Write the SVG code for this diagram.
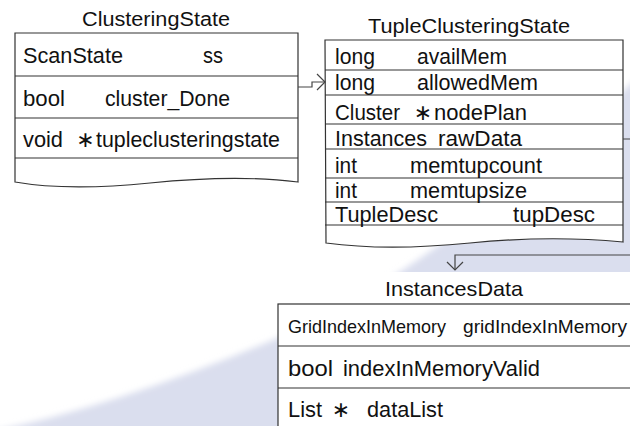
<svg xmlns="http://www.w3.org/2000/svg" width="630" height="426" viewBox="0 0 630 426">
<defs>
<style>
text{font-family:"Liberation Sans",Arial,sans-serif;fill:#111;font-size:22px}
.star{font-family:"DejaVu Sans",sans-serif;font-size:22px}
.box{fill:#fff;stroke:#333;stroke-width:1.2}
.row{stroke:#333;stroke-width:1.2;fill:none}
.conn{fill:none;stroke:#444;stroke-width:1.2}
</style>
<filter id="soft" x="-10%" y="-10%" width="120%" height="120%"><feGaussianBlur stdDeviation="3"/></filter>
<marker id="arr" viewBox="0 0 10 18" refX="9" refY="9" markerWidth="10" markerHeight="18" markerUnits="userSpaceOnUse" orient="auto">
<path d="M1,1 L9,9 L1,17" fill="none" stroke="#444" stroke-width="1.2"/>
</marker>
</defs>
<rect width="630" height="426" fill="#fff"/>
<path d="M-10,432 Q120,405 280,337 T645,70 L645,440 Z" fill="#dadeee" filter="url(#soft)"/>
<rect x="278" y="272" width="360" height="160" fill="#fff"/>

<g id="ClusteringState">
<text x="82" y="26" textLength="148" lengthAdjust="spacingAndGlyphs" style="font-size:20px">ClusteringState</text>
<path class="box" d="M15,33 H298 V182 C250,176 200,178 150,183 C100,188 55,189 15,182 Z"/>
<path class="row" d="M15,76 H298 M15,118 H298 M15,158 H298"/>
<text x="23" y="63" textLength="100" lengthAdjust="spacingAndGlyphs">ScanState</text>
<text x="203" y="63" textLength="20" lengthAdjust="spacingAndGlyphs">ss</text>
<text x="23" y="106" textLength="42" lengthAdjust="spacingAndGlyphs">bool</text>
<text x="105" y="106" textLength="125" lengthAdjust="spacingAndGlyphs">cluster_Done</text>
<text x="23" y="147" textLength="40" lengthAdjust="spacingAndGlyphs">void</text>
<text class="star" x="85.5" y="147" text-anchor="middle">∗</text>
<text x="96" y="147" textLength="184" lengthAdjust="spacingAndGlyphs">tupleclusteringstate</text>
</g>

<g id="TupleClusteringState">
<text x="368" y="33" textLength="202" lengthAdjust="spacingAndGlyphs" style="font-size:21px">TupleClusteringState</text>
<path class="box" d="M325,40 H623 V242 C570,237 520,238 470,243 C420,248 370,249 326,243 Z"/>
<path class="row" d="M325,70 H623 M325,95 H623 M325,124 H623 M325,149 H623 M325,178 H623 M325,202 H623 M325,225 H623"/>
<text x="335" y="64" textLength="40" lengthAdjust="spacingAndGlyphs">long</text>
<text x="417" y="64" textLength="90" lengthAdjust="spacingAndGlyphs">availMem</text>
<text x="335" y="90" textLength="40" lengthAdjust="spacingAndGlyphs">long</text>
<text x="417" y="90" textLength="121" lengthAdjust="spacingAndGlyphs">allowedMem</text>
<text x="335" y="120" textLength="65" lengthAdjust="spacingAndGlyphs">Cluster</text>
<text class="star" x="423" y="120" text-anchor="middle">∗</text>
<text x="434" y="120" textLength="93" lengthAdjust="spacingAndGlyphs">nodePlan</text>
<text x="335" y="146" textLength="92" lengthAdjust="spacingAndGlyphs">Instances</text>
<text x="438" y="146" textLength="84" lengthAdjust="spacingAndGlyphs">rawData</text>
<text x="335" y="173" textLength="22" lengthAdjust="spacingAndGlyphs">int</text>
<text x="410" y="173" textLength="132" lengthAdjust="spacingAndGlyphs">memtupcount</text>
<text x="335" y="198" textLength="22" lengthAdjust="spacingAndGlyphs">int</text>
<text x="410" y="198" textLength="117" lengthAdjust="spacingAndGlyphs">memtupsize</text>
<text x="335" y="222" textLength="103" lengthAdjust="spacingAndGlyphs">TupleDesc</text>
<text x="513" y="222" textLength="82" lengthAdjust="spacingAndGlyphs">tupDesc</text>
</g>

<g id="InstancesData">
<text x="385" y="296" textLength="138" lengthAdjust="spacingAndGlyphs" style="font-size:21px">InstancesData</text>
<rect class="box" x="278" y="304" width="372" height="140"/>
<path class="row" d="M278,346 H650 M278,388 H650"/>
<text x="288" y="333" textLength="158" lengthAdjust="spacingAndGlyphs" style="font-size:19px">GridIndexInMemory</text>
<text x="463" y="333" textLength="164" lengthAdjust="spacingAndGlyphs" style="font-size:19px">gridIndexInMemory</text>
<text x="288" y="376" textLength="45" lengthAdjust="spacingAndGlyphs">bool</text>
<text x="343" y="376" textLength="197" lengthAdjust="spacingAndGlyphs">indexInMemoryValid</text>
<text x="288" y="417" textLength="34" lengthAdjust="spacingAndGlyphs">List</text>
<text class="star" x="341" y="417" text-anchor="middle">∗</text>
<text x="367" y="417" textLength="76" lengthAdjust="spacingAndGlyphs">dataList</text>
</g>

<g id="connectors">
<path class="conn" d="M298,87 H312 V82 H325" marker-end="url(#arr)"/>
<path class="conn" d="M623,139 H640 V255 H455 V270" marker-end="url(#arr)"/>
</g>
</svg>
